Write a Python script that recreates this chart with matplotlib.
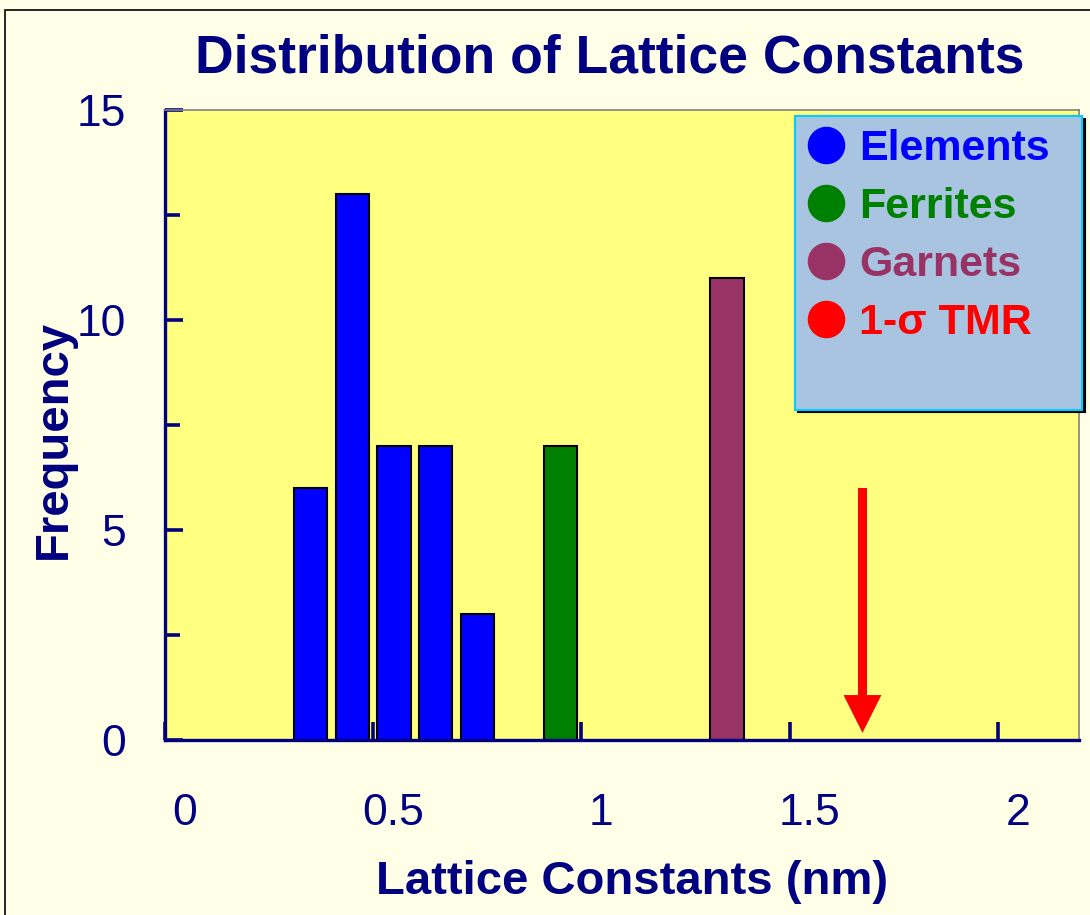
import matplotlib
matplotlib.use("Agg")
import matplotlib.pyplot as plt
import matplotlib.transforms as mtransforms
from matplotlib.lines import Line2D
from matplotlib.patches import Rectangle

# data
element_x = [0.35, 0.45, 0.55, 0.65, 0.75]
element_n = [6, 13, 7, 7, 3]
ferrite_x = [0.95]
ferrite_n = [7]
garnet_x = [1.35]
garnet_n = [11]
tmr_x = 1.675          # 1-sigma TMR marker
tmr_top = 6
tmr_tip = 0.17

series_labels = ["Elements", "Ferrites", "Garnets", "1-\u03c3 TMR"]
series_colors = ["#0000FF", "#008000", "#993366", "#FF0000"]

xticks = [0, 0.5, 1, 1.5, 2]
xtick_labels = ["0", "0.5", "1", "1.5", "2"]
yticks = [0, 5, 10, 15]
yticks_minor = [2.5, 7.5, 12.5]

navy = "#000080"
plt.rcParams['font.family'] = ['Liberation Sans', 'DejaVu Sans']

fig = plt.figure(figsize=(10.9, 9.15), dpi=100, facecolor="#FFFFE8")
ax = fig.add_axes([165/1090, 1 - 740/915, 914/1090, 630/915])
ax.set_facecolor("#FFFF80")

bw = 0.08
ax.bar(element_x, element_n, width=bw, color=series_colors[0], edgecolor="black", linewidth=1.5)
ax.bar(ferrite_x, ferrite_n, width=bw, color=series_colors[1], edgecolor="black", linewidth=1.5)
ax.bar(garnet_x, garnet_n, width=bw, color=series_colors[2], edgecolor="black", linewidth=1.5)

ax.arrow(tmr_x, tmr_top, 0, tmr_tip - tmr_top, width=0.0216, head_width=0.091,
         head_length=0.9, length_includes_head=True, fc="red", ec="none", zorder=3)

ax.set_xlim(0, 2.195)
ax.set_ylim(0, 15)

for s in ['left', 'bottom']:
    ax.spines[s].set_color(navy)
    ax.spines[s].set_linewidth(2.4)
for s in ['top', 'right']:
    ax.spines[s].set_color("#808080")
    ax.spines[s].set_linewidth(1.2)

ax.set_xticks(xticks)
ax.set_xticklabels(xtick_labels)
ax.set_yticks(yticks)
ax.set_yticks(yticks_minor, minor=True)
ax.tick_params(axis='both', which='both', direction='in', color=navy, width=2.6,
               labelcolor=navy, labelsize=32)
ax.tick_params(axis='both', which='major', length=13)
ax.tick_params(axis='y', which='minor', length=11)
ax.tick_params(axis='x', pad=38)
ax.tick_params(axis='y', pad=28)

# tick labels sit a bit to the right of their ticks in the original
shift = mtransforms.ScaledTranslation(0.20, 0, fig.dpi_scale_trans)
for lbl in ax.get_xticklabels():
    lbl.set_transform(lbl.get_transform() + shift)

ax.set_xlabel("Lattice Constants (nm)", fontsize=34, fontweight='bold', color=navy)
ax.xaxis.set_label_coords(0.511, -0.191)
ax.set_ylabel("Frequency", fontsize=34, fontweight='bold', color=navy)
ax.yaxis.set_label_coords(-0.097, 0.477)

ax.set_title("Distribution of Lattice Constants", fontsize=38.5, fontweight='bold',
             color=navy, x=0.487, y=1.060, pad=0, va='baseline')

handles = [Line2D([], [], linestyle='none', marker='o', markersize=26,
                  markerfacecolor=c, markeredgecolor=c) for c in series_colors]
handles.append(Line2D([], [], linestyle='none', marker=''))
leg = ax.legend(handles, series_labels + [" "],
                loc='upper left', bbox_to_anchor=(0.689, 0.990, 0.314, 0.0), mode='expand',
                prop={'family': 'Liberation Sans', 'weight': 'bold', 'size': 31},
                labelcolor=series_colors + ["black"],
                facecolor="#A8C4E0", edgecolor="#00CCFF", framealpha=1, fancybox=False,
                borderpad=0.3, labelspacing=0.42, handlelength=0.84, handletextpad=0.35,
                borderaxespad=0,
                shadow={'ox': 2, 'oy': -2, 'facecolor': 'black', 'edgecolor': 'black', 'alpha': 1})
leg.get_frame().set_linewidth(1.5)
leg.get_texts()[-1].set_fontsize(16)

# outer frame of the slide
fig.add_artist(Rectangle((5/1090, -0.1), 1.2, 1 - 10/915 + 0.1, transform=fig.transFigure,
                         fill=False, edgecolor="black", linewidth=1.2, clip_on=False))

fig.savefig("out.png", dpi=100, facecolor=fig.get_facecolor())
